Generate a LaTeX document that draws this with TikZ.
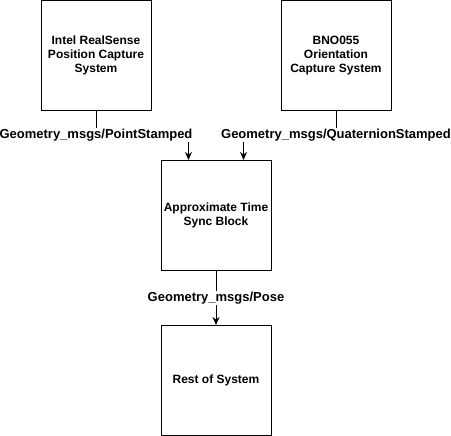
\documentclass[tikz,border=0pt]{standalone}
\usepackage{fontspec}
\setmainfont{Liberation Sans}
\usetikzlibrary{arrows.meta}

\begin{document}
\begin{tikzpicture}[x=1pt,y=-1pt,>={Stealth[length=8pt,width=7pt]},line width=1pt,
  block/.style={draw,minimum width=110pt,minimum height=110pt,inner xsep=2pt,
    align=center,font=\fontsize{12}{14}\selectfont\bfseries},
  msg/.style={fill=white,inner sep=1pt,font=\fontsize{13}{14}\selectfont\bfseries}]
  \useasboundingbox (0,0) rectangle (451,436);
  % capture systems
  \node[block] (realsense) at (96,55.5) {Intel RealSense\\Position Capture\\System};
  \node[block] (bno) at (336,55.5) {BNO055\\Orientation\\Capture System};
  % sync and rest
  \node[block] (sync) at (216,215.5) {Approximate Time\\Sync Block};
  \node[block] (rest) at (216,380.5) {Rest of System};
  % topics
  \coordinate (point) at (96,135);
  \coordinate (quat) at (336,135);
  \coordinate (pose) at (216,298);
  \draw[->] (realsense.south) -- (point) -| ([xshift=28pt]sync.north west);
  \draw[->] (bno.south) -- (quat) -| ([xshift=-28pt]sync.north east);
  \draw[->] (sync.south) -- (rest.north);
  \node[msg] at (point) {Geometry\_msgs/PointStamped};
  \node[msg] at (quat) {Geometry\_msgs/QuaternionStamped};
  \node[msg] at (pose) {Geometry\_msgs/Pose};
\end{tikzpicture}
\end{document}
